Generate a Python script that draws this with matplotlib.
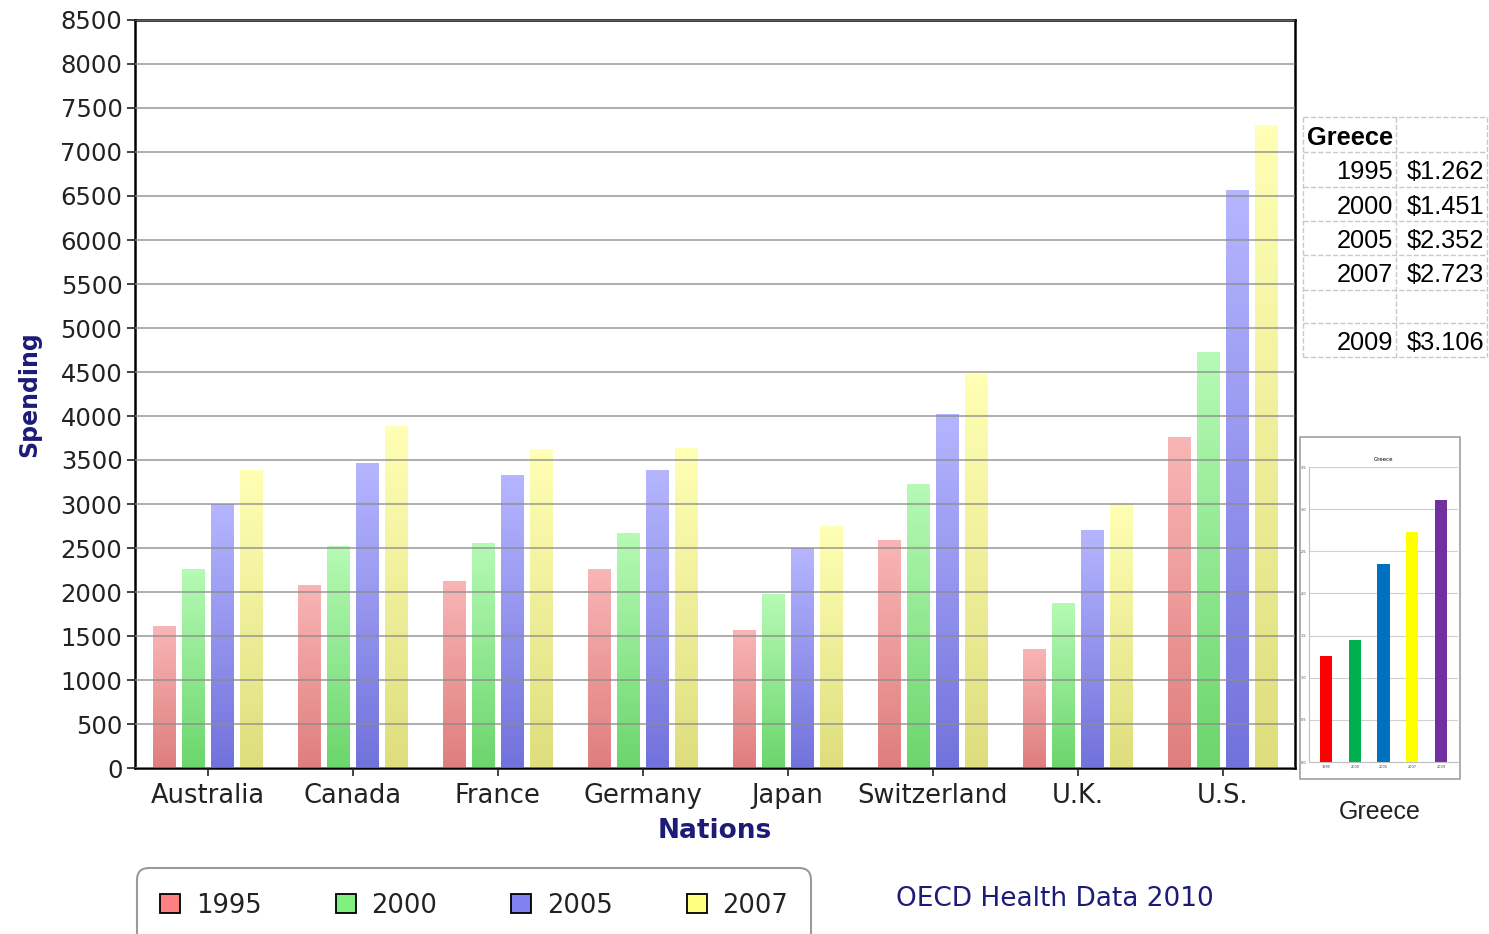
import numpy as np
import matplotlib.pyplot as plt
from matplotlib.colors import to_rgb
from matplotlib.patches import FancyBboxPatch, Rectangle
from matplotlib.lines import Line2D

# health spending per capita (US$)
nations = ['Australia', 'Canada', 'France', 'Germany', 'Japan', 'Switzerland', 'U.K.', 'U.S.']
years = ['1995', '2000', '2005', '2007']
spend_1995 = [1610, 2070, 2125, 2260, 1560, 2580, 1345, 3760]
spend_2000 = [2260, 2520, 2555, 2670, 1975, 3225, 1865, 4725]
spend_2005 = [2990, 3465, 3320, 3375, 2490, 4020, 2695, 6565]
spend_2007 = [3375, 3875, 3615, 3635, 2750, 4475, 3010, 7305]

# Greece side table / small chart
greece_years = ['1995', '2000', '2005', '2007', '2009']
greece_vals = [1.262, 1.451, 2.352, 2.723, 3.106]
greece_colors = ['#ff0000', '#00b050', '#0070c0', '#ffff00', '#7030a0']

W, H = 1489, 934
navy = '#1c1c78'

def fx(x):
    return x / W

def fy(y):
    return 1 - y / H

fig = plt.figure(figsize=(W / 100, H / 100), dpi=100)
ax = fig.add_axes([fx(135), fy(768), fx(1295) - fx(135), fy(20) - fy(768)])

series = [spend_1995, spend_2000, spend_2005, spend_2007]
# (top, bottom) colours of each bar gradient
grads = [('#f9b5b5', '#df7e7e'),
         ('#b5fab5', '#6cd66c'),
         ('#b5b5ff', '#7272dc'),
         ('#ffffb5', '#dede7e')]
legend_cols = ['#ff8080', '#80f080', '#8080f0', '#ffff80']

x = np.arange(len(nations))
bw = 0.152
pitch = 0.2
for i, vals in enumerate(series):
    pos = x + (i - 1.5) * pitch
    bars = ax.bar(pos, vals, width=bw, color=grads[i][1], zorder=1)
    top = np.array(to_rgb(grads[i][0]))
    bot = np.array(to_rgb(grads[i][1]))
    t = np.linspace(0, 1, 64)[:, None]
    img = (bot * (1 - t) + top * t)[:, None, :]
    for b in bars:
        x0 = b.get_x()
        ax.imshow(img, extent=(x0, x0 + b.get_width(), 0, b.get_height()),
                  origin='lower', aspect='auto', zorder=1.5, interpolation='bilinear')

ax.set_xlim(-0.5, len(nations) - 0.5)
ax.set_ylim(0, 8500)
ax.set_yticks(np.arange(0, 8501, 500))
ax.set_xticks(x)
ax.set_xticklabels(nations)
ax.yaxis.grid(True, color='#8c8c8c', alpha=0.7, linewidth=1.4, zorder=3)
ax.set_axisbelow(False)
ax.tick_params(axis='y', labelsize=17.5, colors='#222222', length=6, width=1.2, pad=3)
ax.tick_params(axis='x', labelsize=18.5, colors='#222222', length=6, width=1.2, pad=5)
for s in ax.spines.values():
    s.set_linewidth(1.8)
    s.set_color('black')

ax.set_ylabel('Spending', fontsize=17, fontweight='bold', color=navy, labelpad=14)
ax.set_xlabel('Nations', fontsize=19, fontweight='bold', color=navy, labelpad=6)

# legend box, running off the bottom edge
leg = FancyBboxPatch((137, H - 950), 674, 82, boxstyle='round,pad=0,rounding_size=12',
                     transform=None, facecolor='white', edgecolor='#9a9a9a', linewidth=1.5,
                     clip_on=False)
fig.patches.append(leg)
for i, (yr, c) in enumerate(zip(years, legend_cols)):
    sx = 160 + i * 175.5
    fig.patches.append(Rectangle((fx(sx), fy(913)), fx(20), 19 / H, transform=fig.transFigure,
                                 facecolor=c, edgecolor='black', linewidth=1.3))
    fig.text(fx(sx + 36), fy(906), yr, fontsize=18.5, va='center', ha='left', color='#222222')

fig.text(fx(1055), fy(899), 'OECD Health Data 2010', fontsize=19, color=navy,
         ha='center', va='center')

# Greece table
row_edges = [117, 152, 187, 221, 255, 290, 323, 357]
col_edges = [1303, 1396, 1487]
for yv in row_edges:
    fig.add_artist(Line2D([fx(col_edges[0]), fx(col_edges[-1])], [fy(yv), fy(yv)],
                          transform=fig.transFigure, color='#c8c8c8', linewidth=1, linestyle='--'))
for xv in col_edges:
    fig.add_artist(Line2D([fx(xv), fx(xv)], [fy(row_edges[0]), fy(row_edges[-1])],
                          transform=fig.transFigure, color='#c8c8c8', linewidth=1, linestyle='--'))
tfont = dict(family='Liberation Sans', fontsize=18.3, va='center')
fig.text(fx(1307), fy(138), 'Greece', fontweight='bold', ha='left', **tfont)
row_y = [172, 207, 241, 275, 343]
for yr, v, ry in zip(greece_years, greece_vals, row_y):
    fig.text(fx(1393), fy(ry), yr, ha='right', **tfont)
    fig.text(fx(1484), fy(ry), '$%.3f' % v, ha='right', **tfont)

# small Greece chart in its own frame
fig.patches.append(Rectangle((fx(1300), fy(779)), fx(160), 342 / H, transform=fig.transFigure,
                             facecolor='white', edgecolor='#a0a0a0', linewidth=1.2, zorder=-1))
ax2 = fig.add_axes([fx(1309), fy(762), fx(149), fy(467) - fy(762)])
ax2.patch.set_alpha(0)
gx = np.arange(len(greece_vals))
ax2.bar(gx, greece_vals, width=0.42, color=greece_colors, zorder=2)
ax2.set_ylim(0, 3.5)
ax2.set_xlim(-0.6, len(greece_vals) - 0.4)
ax2.set_yticks(np.arange(0, 3.51, 0.5))
ax2.set_xticks(gx)
ax2.set_xticklabels(greece_years)
ax2.tick_params(labelsize=2.5, length=0, pad=2, colors='#444444')
ax2.yaxis.grid(True, color='#d0d0d0', linewidth=0.8, zorder=0)
ax2.set_axisbelow(True)
for s in ['top', 'right']:
    ax2.spines[s].set_visible(False)
ax2.spines['left'].set_color('#c0c0c0')
ax2.spines['bottom'].set_color('#c0c0c0')
ax2.set_title('Greece', fontsize=4, pad=4)

fig.text(fx(1380), fy(812), 'Greece', family='Liberation Sans', fontsize=18,
         ha='center', va='center', color='#222222')

fig.savefig('out.png', dpi=100)
